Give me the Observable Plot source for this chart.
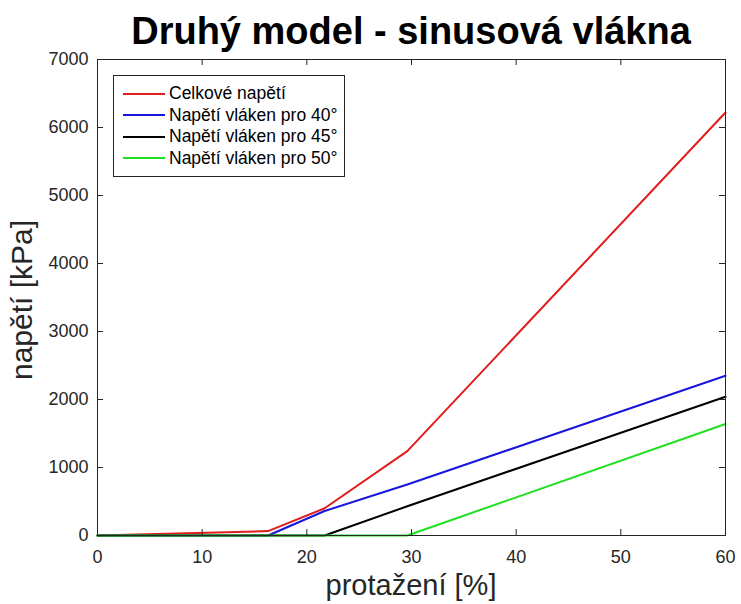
<!DOCTYPE html>
<html><head><meta charset="utf-8">
<script src="https://cdn.jsdelivr.net/npm/d3@7"></script>
<script src="https://cdn.jsdelivr.net/npm/@observablehq/plot@0.6"></script>
<style>
body{margin:0;background:#fff;}
#wrap{position:relative;width:741px;height:604px;font-family:"Liberation Sans",Arial,Helvetica,sans-serif;overflow:hidden;}
#title{position:absolute;left:97px;width:628px;top:12px;text-align:center;font-weight:bold;font-size:38px;line-height:38px;color:#000;white-space:nowrap;}
#xlabel{position:absolute;left:97px;width:628px;top:571px;text-align:center;font-size:29px;line-height:29px;color:#262626;white-space:nowrap;}
#ylabel{position:absolute;left:22px;top:300px;transform:translate(-50%,-50%) rotate(-90deg);font-size:30px;line-height:30px;color:#262626;white-space:nowrap;}
#legend{position:absolute;left:113px;top:75px;width:230px;height:86px;border:1px solid #262626;background:#fff;padding:7px 0;box-sizing:content-box;}
.row{display:flex;align-items:center;height:21.5px;font-size:17.5px;color:#000;white-space:nowrap;}
.sw{width:42px;height:2px;margin-left:9px;margin-right:4px;flex:none;}
#chart{position:absolute;left:0;top:0;}
</style></head><body>
<div id="wrap"><div id="chart"></div><div id="title"></div><div id="xlabel"></div><div id="ylabel"></div><div id="legend"></div></div>
<script>
const titleText = "Druhý model - sinusová vlákna";
const xLabelText = "protažení [%]";
const yLabelText = "napětí [kPa]";
const strain = [0, 16.3, 21.7, 29.6, 60];
const seriesNames = ["Celkové napětí", "Napětí vláken pro 40°", "Napětí vláken pro 45°", "Napětí vláken pro 50°"];
const seriesColors = ["#e21b1b", "#1616dc", "#000000", "#1fe01f"];
const totalStress = [0, 65, 400, 1240, 6220];
const fiber40 = [0, 0, 360, 750, 2350];
const fiber45 = [0, 0, 0, 430, 2040];
const fiber50 = [0, 0, 0, 0, 1640];
const xTicks = [0, 10, 20, 30, 40, 50, 60];
const yTicks = [0, 1000, 2000, 3000, 4000, 5000, 6000, 7000];

const seriesValues = [totalStress, fiber40, fiber45, fiber50];
const data = seriesNames.flatMap((name, i) => strain.map((x, j) => ({series: name, x, y: seriesValues[i][j]})));

const W = 741, H = 604, mL = 97, mR = 16, mT = 59, mB = 69;
const pw = W - mL - mR, ph = H - mT - mB;
const axisColor = "#262626";

const chart = Plot.plot({
  width: W, height: H,
  marginLeft: mL, marginRight: mR, marginTop: mT, marginBottom: mB,
  style: {fontFamily: '"Liberation Sans", Arial, sans-serif', background: "#fff", color: axisColor},
  x: {domain: [0, 60]},
  y: {domain: [0, 7000]},
  color: {domain: seriesNames, range: seriesColors},
  marks: [
    Plot.line(data, {x: "x", y: "y", z: "series", stroke: "series", strokeWidth: 2}),
    Plot.frame({stroke: axisColor, strokeWidth: 1}),
    Plot.tickX(xTicks, {x: d => d, insetTop: ph - 6, stroke: axisColor}),
    Plot.tickX(xTicks, {x: d => d, insetBottom: ph - 6, stroke: axisColor}),
    Plot.tickY(yTicks, {y: d => d, insetRight: pw - 6, stroke: axisColor}),
    Plot.tickY(yTicks, {y: d => d, insetLeft: pw - 6, stroke: axisColor}),
    Plot.axisX(xTicks, {tickSize: 0, tickPadding: 15, fontSize: 18, label: null, fill: axisColor, tickFormat: d3.format("d")}),
    Plot.axisY(yTicks, {tickSize: 0, tickPadding: 9, fontSize: 18, label: null, fill: axisColor, tickFormat: d3.format("d")})
  ]
});
document.getElementById("chart").appendChild(chart);
document.getElementById("title").textContent = titleText;
document.getElementById("xlabel").textContent = xLabelText;
document.getElementById("ylabel").textContent = yLabelText;
const legend = document.getElementById("legend");
seriesNames.forEach((n, i) => {
  const row = document.createElement("div");
  row.className = "row";
  const sw = document.createElement("div");
  sw.className = "sw";
  sw.style.background = seriesColors[i];
  const t = document.createElement("span");
  t.textContent = n;
  row.appendChild(sw); row.appendChild(t);
  legend.appendChild(row);
});
</script></body></html>
